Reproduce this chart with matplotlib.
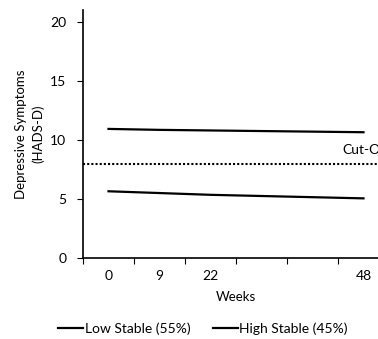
import matplotlib.pyplot as plt
from matplotlib.lines import Line2D

plt.rcParams['font.family'] = ['Lato', 'DejaVu Sans']

week_labels = ['0', '9', '22', '', '', '48']
weeks_pos = [0, 1, 2, 5]
low_stable = [5.65, 5.5, 5.35, 5.05]
high_stable = [10.93, 10.85, 10.8, 10.65]
cut_off = 8

fig = plt.figure(figsize=(3.78, 3.39), dpi=100)
ax = fig.add_axes([83 / 378, 1 - 258 / 339, 306 / 378, 248 / 339])

ax.plot(weeks_pos, low_stable, color='black', lw=1.6)
ax.plot(weeks_pos, high_stable, color='black', lw=1.6)
ax.axhline(cut_off, color='black', lw=1.5, ls=(0, (1, 1)), clip_on=False)
ax.text(4.58, cut_off + 0.6, 'Cut-Off', fontsize=10, ha='left', va='bottom')

ax.set_xlim(-0.5, 5.5)
ax.set_ylim(0, 21)
ax.set_yticks([0, 5, 10, 15, 20])
ax.set_xticks([i - 0.5 for i in range(7)])
ax.set_xticklabels([])
ax.set_xticks(range(6), minor=True)
ax.set_xticklabels(week_labels, minor=True)
ax.tick_params(axis='x', which='minor', length=0, pad=9, labelsize=10)
ax.tick_params(axis='x', which='major', length=4, direction='out')
ax.tick_params(axis='y', length=4, direction='out', labelsize=10, pad=8)

for s in ['top', 'right']:
    ax.spines[s].set_visible(False)
ax.spines['left'].set_linewidth(1.2)
ax.spines['bottom'].set_linewidth(1.2)

ax.set_xlabel('Weeks', fontsize=9.5, labelpad=6)
ax.set_ylabel('Depressive Symptoms\n(HADS-D)', fontsize=9.5, labelpad=4,
              multialignment='center', linespacing=1.5)

handles = [Line2D([], [], color='black', lw=1.6), Line2D([], [], color='black', lw=1.6)]
fig.legend(handles, ['Low Stable (55%)', 'High Stable (45%)'], loc='center',
           bbox_to_anchor=(203 / 378, 1 - 329 / 339), ncol=2, frameon=False,
           fontsize=10, handlelength=1.8, handletextpad=0.1, columnspacing=1.6)

fig.savefig('out.png', dpi=100)
